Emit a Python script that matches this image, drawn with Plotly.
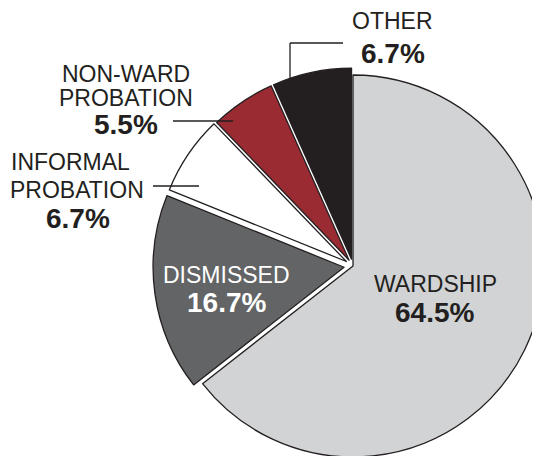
import math
import plotly.graph_objects as go

# ---- data ----
labels = ["WARDSHIP", "DISMISSED", "INFORMAL PROBATION", "NON-WARD PROBATION", "OTHER"]
values = [64.5, 16.7, 6.7, 5.5, 6.7]
pct_text = ["64.5%", "16.7%", "6.7%", "5.5%", "6.7%"]

# ---- style ----
colors = ["#d1d3d4", "#636466", "#ffffff", "#9b2b33", "#231f20"]
offsets_px = [0, 9, 8, 7, 7]           # explode distance of each slice
W, H = 540, 456
OFF = 8                                 # page body margin
CX, CY, R = 353, 266, 191               # pie centre / radius in screen px
INK = "#231f20"
FONT = "Liberation Sans, Arial, sans-serif"

fig = go.Figure()
total = sum(values)
cum = 0.0
for i, v in enumerate(values):
    mid = (cum + v / 2) / total * 2 * math.pi   # clockwise from top
    cum += v
    d = offsets_px[i]
    cx = CX - OFF + d * math.sin(mid)
    cy = CY - OFF - d * math.cos(mid)
    mcol = [colors[j] if j == i else "rgba(0,0,0,0)" for j in range(len(values))]
    lcol = [INK if j == i else "rgba(0,0,0,0)" for j in range(len(values))]
    lw = [1.3 if j == i else 0 for j in range(len(values))]
    fig.add_trace(go.Pie(
        labels=labels, values=values, sort=False, direction="clockwise",
        rotation=0, textinfo="none", hoverinfo="label+value",
        marker=dict(colors=mcol, line=dict(color=lcol, width=lw)),
        domain=dict(x=[(cx - R) / W, (cx + R) / W],
                    y=[1 - (cy + R) / H, 1 - (cy - R) / H]),
        showlegend=False,
    ))

def px(x, y):
    return (x - OFF) / W, 1 - (y - OFF) / H

anns = []
def add_text(txt, x, y, size, bold=False, color=INK):
    ax, ay = px(x, y)
    anns.append(dict(text=("<b>%s</b>" % txt) if bold else txt, x=ax, y=ay,
                     xref="paper", yref="paper", xanchor="center", yanchor="middle",
                     showarrow=False, font=dict(family=FONT, size=size, color=color)))

LS, PS = 23, 28
# OTHER
add_text("OTHER", 393, 21, LS)
add_text(pct_text[4], 393, 53, PS, True)
# NON-WARD PROBATION
add_text("NON-WARD", 126, 74, LS)
add_text("PROBATION", 126, 98.5, LS)
add_text(pct_text[3], 126, 125, PS, True)
# INFORMAL PROBATION
add_text("INFORMAL", 70, 162, LS)
add_text("PROBATION", 77, 190, LS)
add_text(pct_text[2], 77.5, 218, PS, True)
# DISMISSED
add_text("DISMISSED", 226, 275, LS, color="#ffffff")
add_text(pct_text[1], 226, 302, PS, True, color="#ffffff")
# WARDSHIP
add_text("WARDSHIP", 435, 284, LS)
add_text(pct_text[0], 434, 312, PS, True)

shapes = []
def line(x0, y0, x1, y1):
    a0, b0 = px(x0, y0)
    a1, b1 = px(x1, y1)
    shapes.append(dict(type="line", xref="paper", yref="paper", x0=a0, y0=b0, x1=a1, y1=b1,
                       line=dict(color=INK, width=1.3)))

line(343, 43, 290, 43)
line(290, 43, 290, 80)
line(173, 121, 233, 121)
line(153, 186, 199, 186)

fig.update_layout(width=W, height=H, margin=dict(l=0, r=0, t=0, b=0),
                  paper_bgcolor="white", plot_bgcolor="white",
                  annotations=anns, shapes=shapes)
fig.write_html("out.html")
